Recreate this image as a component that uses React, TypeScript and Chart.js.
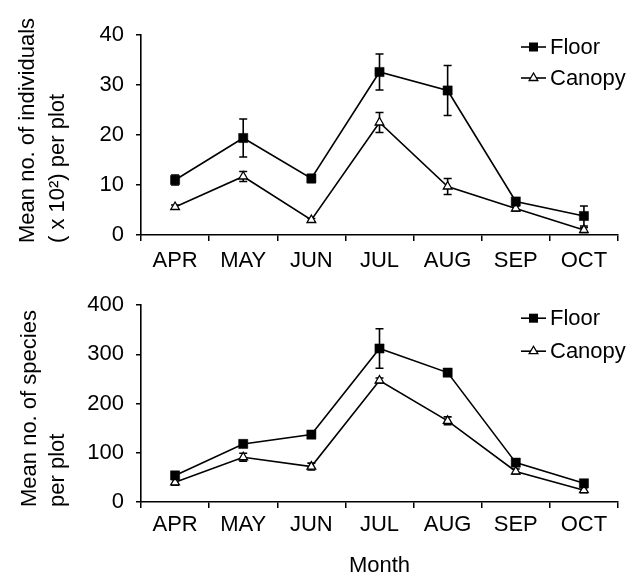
import React, { useEffect, useRef } from 'react';
import { Chart, registerables } from 'chart.js';

Chart.register(...registerables);

const months = ['APR', 'MAY', 'JUN', 'JUL', 'AUG', 'SEP', 'OCT'];

const indFloor = [11, 19.4, 11.3, 32.6, 28.9, 6.7, 3.8];
const indFloorErr = [1.0, 3.8, 0.8, 3.6, 5.0, 0.5, 2.0];
const indCanopy = [5.6, 11.7, 3.0, 22.5, 9.7, 5.3, 1.0];
const indCanopyErr = [0.4, 1.0, 0.3, 2.0, 1.6, 0.5, 0.5];

const spFloor = [54, 118, 137, 312, 263, 80, 38];
const spFloorErr = [5, 4, 6, 40, 4, 4, 4];
const spCanopy = [40, 91, 72, 247, 165, 62, 24];
const spCanopyErr = [6, 8, 7, 5, 8, 5, 5];

const seriesNames = ['Floor', 'Canopy'];
const indTicks = { min: 0, max: 40, step: 10 };
const spTicks = { min: 0, max: 400, step: 100 };

const FONT = '"Liberation Sans", Arial, Helvetica, sans-serif';

const errorBarPlugin = {
  id: 'errorBars',
  beforeDatasetsDraw(chart: any) {
    const ctx = chart.ctx;
    const y = chart.scales.y;
    chart.data.datasets.forEach((ds: any, i: number) => {
      const meta = chart.getDatasetMeta(i);
      const errs: number[] = ds.errors || [];
      meta.data.forEach((pt: any, j: number) => {
        const v = ds.data[j];
        const e = errs[j] || 0;
        if (!e) return;
        const yt = y.getPixelForValue(v + e);
        const yb = y.getPixelForValue(v - e);
        const x = pt.x;
        ctx.save();
        ctx.strokeStyle = '#000';
        ctx.lineWidth = 1.6;
        ctx.beginPath();
        ctx.moveTo(x, yt);
        ctx.lineTo(x, yb);
        ctx.moveTo(x - 4, yt);
        ctx.lineTo(x + 4, yt);
        ctx.moveTo(x - 4, yb);
        ctx.lineTo(x + 4, yb);
        ctx.stroke();
        ctx.restore();
      });
    });
  },
};

function drawMarker(ctx: CanvasRenderingContext2D, style: string, x: number, y: number) {
  ctx.save();
  ctx.strokeStyle = '#000';
  if (style === 'rect') {
    ctx.fillStyle = '#000';
    ctx.fillRect(x - 4.5, y - 4.5, 9, 9);
  } else {
    const r = 5;
    ctx.fillStyle = '#fff';
    ctx.lineWidth = 1.3;
    ctx.beginPath();
    ctx.moveTo(x, y - r);
    ctx.lineTo(x + Math.sin((2 * Math.PI) / 3) * r, y - Math.cos((2 * Math.PI) / 3) * r);
    ctx.lineTo(x + Math.sin((4 * Math.PI) / 3) * r, y - Math.cos((4 * Math.PI) / 3) * r);
    ctx.closePath();
    ctx.fill();
    ctx.stroke();
  }
  ctx.restore();
}

const legendPlugin = {
  id: 'lineLegend',
  afterDraw(chart: any) {
    const ctx = chart.ctx;
    const area = chart.chartArea;
    const opts = chart.options.plugins.lineLegend || {};
    const x0 = opts.x ?? 521;
    const y0 = area.top + (opts.dy ?? 12);
    const gap = opts.gap ?? 32;
    chart.data.datasets.forEach((ds: any, i: number) => {
      const y = y0 + i * gap;
      ctx.save();
      ctx.strokeStyle = '#000';
      ctx.lineWidth = 1.6;
      ctx.beginPath();
      ctx.moveTo(x0, y);
      ctx.lineTo(x0 + 25, y);
      ctx.stroke();
      ctx.restore();
      drawMarker(ctx, ds.pointStyle, x0 + 12.5, y);
      ctx.save();
      ctx.fillStyle = '#000';
      ctx.font = `22px ${FONT}`;
      ctx.textBaseline = 'middle';
      ctx.textAlign = 'left';
      ctx.fillText(ds.label, x0 + 29, y + 1);
      ctx.restore();
    });
  },
};

// y-axis title drawn rotated, bottom-aligned a few px below the axis end
const yTitlePlugin = {
  id: 'yTitle',
  afterDraw(chart: any) {
    const opts = chart.options.plugins.yTitle || {};
    const lines: string[] = opts.lines || [];
    const xs: number[] = opts.xs || [];
    const ctx = chart.ctx;
    const yStart = chart.chartArea.bottom + (opts.below ?? 6);
    lines.forEach((t, i) => {
      ctx.save();
      ctx.translate(xs[i], yStart);
      ctx.rotate(-Math.PI / 2);
      ctx.fillStyle = '#000';
      ctx.font = `22px ${FONT}`;
      ctx.textAlign = 'left';
      ctx.textBaseline = 'middle';
      ctx.fillText(t, 0, 0);
      ctx.restore();
    });
  },
};

type PanelProps = {
  height: number;
  floor: number[];
  floorErr: number[];
  canopy: number[];
  canopyErr: number[];
  ticks: { min: number; max: number; step: number };
  yTitle: string[];
  yTitleXs: number[];
  yTitleBelow: number;
  xTitle?: string;
  padTop: number;
  xHeight: number;
  labelPad: number;
  legendDy: number;
  legendGap: number;
};

function Panel(p: PanelProps) {
  const ref = useRef<HTMLCanvasElement>(null);
  useEffect(() => {
    if (!ref.current) return;
    const chart = new Chart(ref.current, {
      type: 'line',
      data: {
        labels: months,
        datasets: [
          {
            label: seriesNames[0],
            data: p.floor,
            errors: p.floorErr,
            borderColor: '#000',
            borderWidth: 1.6,
            pointStyle: 'rect',
            pointRadius: 6.5,
            pointBackgroundColor: '#000',
            pointBorderColor: '#000',
            pointBorderWidth: 0.5,
            tension: 0,
            fill: false,
          } as any,
          {
            label: seriesNames[1],
            data: p.canopy,
            errors: p.canopyErr,
            borderColor: '#000',
            borderWidth: 1.6,
            pointStyle: 'triangle',
            pointRadius: 5,
            pointBackgroundColor: '#fff',
            pointBorderColor: '#000',
            pointBorderWidth: 1.3,
            tension: 0,
            fill: false,
          } as any,
        ],
      },
      options: {
        responsive: false,
        animation: false,
        events: [],
        layout: { padding: { top: p.padTop, right: 22, left: 0, bottom: 0 } },
        plugins: {
          legend: { display: false },
          tooltip: { enabled: false },
          lineLegend: { x: 521, dy: p.legendDy, gap: p.legendGap },
          yTitle: { lines: p.yTitle, xs: p.yTitleXs, below: p.yTitleBelow },
        } as any,
        scales: {
          x: {
            type: 'category',
            offset: true,
            grid: {
              display: true,
              drawOnChartArea: false,
              drawTicks: true,
              tickLength: 6,
              offset: true,
              color: '#000',
              lineWidth: 1.5,
            },
            border: { display: true, color: '#000', width: 1.6 },
            ticks: {
              color: '#000',
              font: { size: 22, family: FONT },
              padding: p.labelPad,
              maxRotation: 0,
              autoSkip: false,
            },
            title: p.xTitle
              ? {
                  display: true,
                  text: p.xTitle,
                  color: '#000',
                  font: { size: 22, family: FONT },
                  padding: { top: 0, bottom: 1 },
                }
              : { display: false },
            afterFit: (s: any) => {
              s.height = p.xHeight;
            },
          },
          y: {
            min: p.ticks.min,
            max: p.ticks.max,
            ticks: {
              stepSize: p.ticks.step,
              color: '#000',
              font: { size: 22, family: FONT },
              padding: 12,
            },
            grid: {
              display: true,
              drawOnChartArea: false,
              drawTicks: true,
              tickLength: 5,
              color: '#000',
              lineWidth: 1.5,
            },
            border: { display: true, color: '#000', width: 1.6 },
            title: { display: false },
            afterFit: (s: any) => {
              s.width = 141;
            },
          },
        },
      } as any,
      plugins: [errorBarPlugin, legendPlugin, yTitlePlugin],
    });
    return () => chart.destroy();
  }, []);
  return <canvas ref={ref} width={640} height={p.height} style={{ display: 'block' }} />;
}

export default function App() {
  return (
    <div
      style={{
        position: 'absolute',
        left: 0,
        top: 0,
        width: 640,
        height: 580,
        background: '#fff',
      }}
    >
      <Panel
        height={280}
        floor={indFloor}
        floorErr={indFloorErr}
        canopy={indCanopy}
        canopyErr={indCanopyErr}
        ticks={indTicks}
        yTitle={['Mean no. of individuals', '( x 10²) per plot']}
        yTitleXs={[28, 58]}
        yTitleBelow={8}
        padTop={35}
        xHeight={45}
        labelPad={7}
        legendDy={12}
        legendGap={31}
      />
      <Panel
        height={300}
        floor={spFloor}
        floorErr={spFloorErr}
        canopy={spCanopy}
        canopyErr={spCanopyErr}
        ticks={spTicks}
        yTitle={['Mean no. of species', 'per plot']}
        yTitleXs={[30, 58]}
        yTitleBelow={5}
        xTitle="Month"
        padTop={22}
        xHeight={78}
        labelPad={4}
        legendDy={13}
        legendGap={33}
      />
    </div>
  );
}
